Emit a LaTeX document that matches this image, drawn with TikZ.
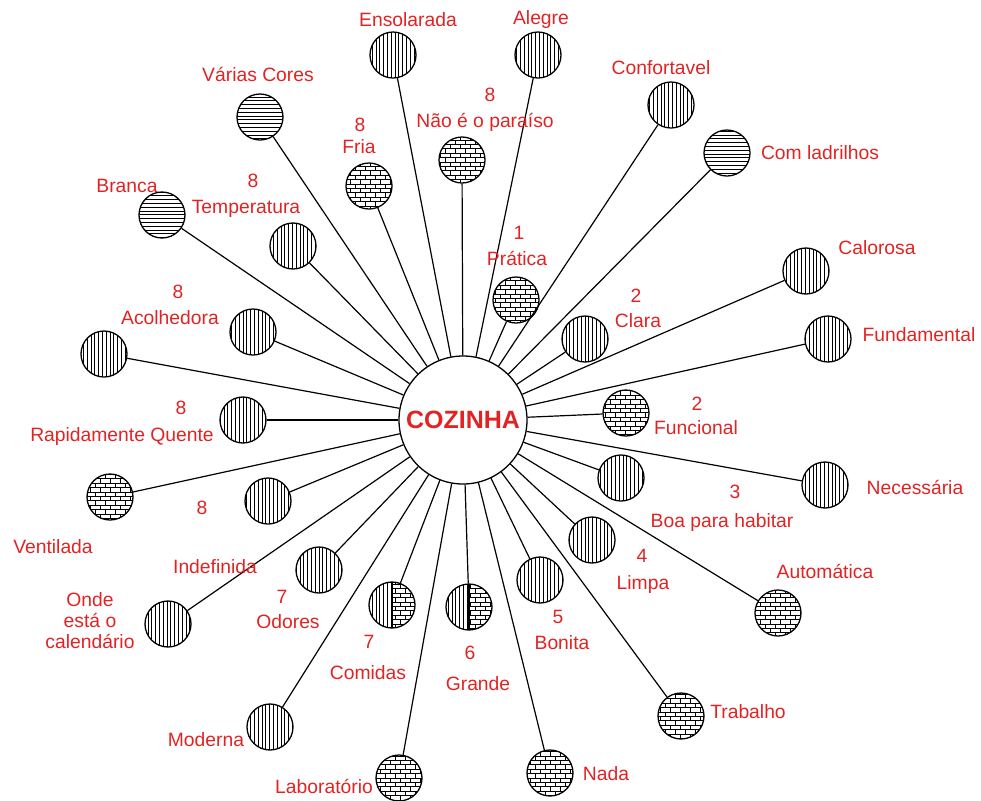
\documentclass[tikz,border=0pt]{standalone}
\usepackage{fontspec}
\setmainfont{Liberation Sans}
\usetikzlibrary{patterns}
\definecolor{lab}{RGB}{226,35,35}

\pgfdeclarepatternformonly{vlin}{\pgfpoint{-0.5pt}{-0.5pt}}{\pgfpoint{2.4pt}{2.4pt}}{\pgfpoint{1.9pt}{1.9pt}}{%
  \pgfsetlinewidth{0.5pt}%
  \pgfpathmoveto{\pgfpoint{0pt}{-0.5pt}}\pgfpathlineto{\pgfpoint{0pt}{2.4pt}}\pgfusepath{stroke}}
\pgfdeclarepatternformonly{hlin}{\pgfpoint{-0.5pt}{-0.5pt}}{\pgfpoint{2.4pt}{2.4pt}}{\pgfpoint{1.9pt}{1.9pt}}{%
  \pgfsetlinewidth{0.5pt}%
  \pgfpathmoveto{\pgfpoint{-0.5pt}{0pt}}\pgfpathlineto{\pgfpoint{2.4pt}{0pt}}\pgfusepath{stroke}}
\pgfdeclarepatternformonly{brk}{\pgfpoint{-0.5pt}{-0.5pt}}{\pgfpoint{5.5pt}{4.9pt}}{\pgfpoint{5pt}{4.4pt}}{%
  \pgfsetlinewidth{0.45pt}%
  \pgfpathmoveto{\pgfpoint{-0.5pt}{0pt}}\pgfpathlineto{\pgfpoint{5.5pt}{0pt}}%
  \pgfpathmoveto{\pgfpoint{-0.5pt}{2.2pt}}\pgfpathlineto{\pgfpoint{5.5pt}{2.2pt}}%
  \pgfpathmoveto{\pgfpoint{0pt}{0pt}}\pgfpathlineto{\pgfpoint{0pt}{2.2pt}}%
  \pgfpathmoveto{\pgfpoint{2.5pt}{2.2pt}}\pgfpathlineto{\pgfpoint{2.5pt}{4.4pt}}%
  \pgfusepath{stroke}}

\tikzset{
  sm/.style={circle, draw, line width=0.65pt, minimum size=23pt, inner sep=0pt},
  V/.style={sm, pattern=vlin},
  H/.style={sm, pattern=hlin},
  B/.style={sm, pattern=brk},
  HB/.style={sm, path picture={
      \fill[pattern=vlin] (path picture bounding box.south west) rectangle (path picture bounding box.north);
      \fill[pattern=brk] (path picture bounding box.south) rectangle (path picture bounding box.north east);
      \draw[line width=0.65pt] (path picture bounding box.south) -- (path picture bounding box.north);}},
  lbl/.style={text=lab, font=\fontsize{9.65}{11}\selectfont, inner sep=0pt, text height=6.9pt, text depth=0pt},
  link/.style={line width=0.6pt},
  hub/.style={circle, draw, line width=0.65pt, minimum size=64pt, inner sep=0pt, text=lab, font=\fontsize{12.5}{14}\selectfont\bfseries}
}

\begin{document}
\begin{tikzpicture}[x=0.5pt, y=-0.5pt]
\useasboundingbox (0,0) rectangle (981,800);

\node[hub] (cz) at (463,420) {COZINHA};

\node[V]  (c1)  at (393,55)  {};
\node[V]  (c2)  at (538,55)  {};
\node[H]  (c3)  at (260,117) {};
\node[B]  (c4)  at (462,160) {};
\node[V]  (c5)  at (671,105) {};
\node[H]  (c6)  at (727,153) {};
\node[B]  (c7)  at (369,186) {};
\node[H]  (c8)  at (162,215) {};
\node[V]  (c9)  at (293,246) {};
\node[V]  (c10) at (806,271) {};
\node[B]  (c11) at (516,300) {};
\node[V]  (c12) at (585,339) {};
\node[V]  (c13) at (828,339) {};
\node[V]  (c14) at (253,332) {};
\node[V]  (c15) at (104,354) {};
\node[V]  (c16) at (243,420) {};
\node[B]  (c17) at (626,413) {};
\node[B]  (c18) at (110,497) {};
\node[V]  (c19) at (268,501) {};
\node[V]  (c20) at (621,478) {};
\node[V]  (c21) at (825,485) {};
\node[B]  (c22) at (778,613) {};
\node[V]  (c23) at (592,540) {};
\node[V]  (c24) at (540,580) {};
\node[HB] (c25) at (469,607) {};
\node[HB] (c26) at (392,605) {};
\node[V]  (c27) at (319,570) {};
\node[V]  (c28) at (168,624) {};
\node[V]  (c29) at (270,727) {};
\node[B]  (c30) at (399,778) {};
\node[B]  (c31) at (550,773) {};
\node[B]  (c32) at (681,716) {};

\foreach \i in {1,...,32} {\draw[link] (c\i) -- (cz);}

\node[lbl] (l1)  at (408,20)  {Ensolarada};
\node[lbl] (l2)  at (541,18)  {Alegre};
\node[lbl] (l3)  at (258,75)  {Várias Cores};
\node[lbl] (n4)  at (490,95)  {8};
\node[lbl] (l4)  at (485,121) {Não é o paraíso};
\node[lbl] (l5)  at (661,68)  {Confortavel};
\node[lbl] (l6)  at (820,153) {Com ladrilhos};
\node[lbl] (n7)  at (360,125) {8};
\node[lbl] (l7)  at (359,147) {Fria};
\node[lbl] (l8)  at (127,186) {Branca};
\node[lbl] (n9)  at (253,181) {8};
\node[lbl] (l9)  at (246,207) {Temperatura};
\node[lbl] (l10) at (877,248) {Calorosa};
\node[lbl] (n11) at (519,233) {1};
\node[lbl] (l11) at (517,259) {Prática};
\node[lbl] (n12) at (636,296) {2};
\node[lbl] (l12) at (638,321) {Clara};
\node[lbl] (l13) at (919,335) {Fundamental};
\node[lbl] (n14) at (178,292) {8};
\node[lbl] (l14) at (170,318) {Acolhedora};
\node[lbl] (n16) at (181,408) {8};
\node[lbl] (l16) at (122,435) {Rapidamente Quente};
\node[lbl] (n17) at (697,404) {2};
\node[lbl] (l17) at (696,428) {Funcional};
\node[lbl] (n20) at (735,492) {3};
\node[lbl] (l20) at (722,521) {Boa para habitar};
\node[lbl] (l21) at (915,488) {Necessária};
\node[lbl] (l18) at (53,547)  {Ventilada};
\node[lbl] (n19) at (202,508) {8};
\node[lbl] (l19) at (215,567) {Indefinida};
\node[lbl] (n23) at (642,556) {4};
\node[lbl] (l23) at (643,583) {Limpa};
\node[lbl] (l22) at (825,572) {Automática};
\node[lbl] (l28a) at (90,600) {Onde};
\node[lbl] (l28b) at (90,621) {está o};
\node[lbl] (l28c) at (90,642) {calendário};
\node[lbl] (n27) at (282,597) {7};
\node[lbl] (l27) at (288,622) {Odores};
\node[lbl] (n24) at (558,617) {5};
\node[lbl] (l24) at (562,643) {Bonita};
\node[lbl] (n26) at (369,642) {7};
\node[lbl] (l26) at (368,673) {Comidas};
\node[lbl] (n25) at (470,653) {6};
\node[lbl] (l25) at (478,684) {Grande};
\node[lbl] (l32) at (748,712) {Trabalho};
\node[lbl] (l29) at (206,740) {Moderna};
\node[lbl] (l31) at (606,774) {Nada};
\node[lbl] (l30) at (324,787) {Laboratório};
\end{tikzpicture}
\end{document}
